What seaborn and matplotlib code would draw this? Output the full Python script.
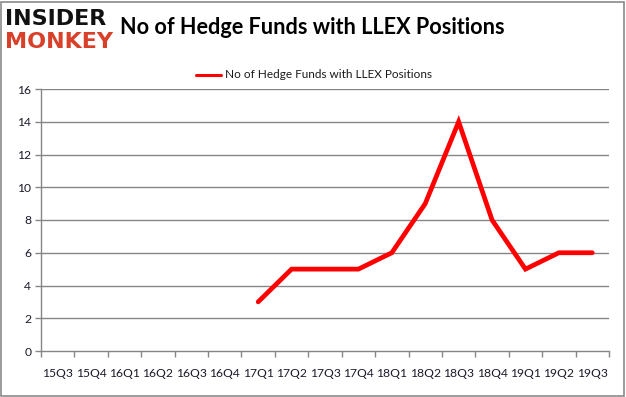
import matplotlib
matplotlib.use("Agg")
import matplotlib.pyplot as plt
import seaborn as sns
import pandas as pd
import numpy as np
from matplotlib.patches import Rectangle
from matplotlib.lines import Line2D

quarters = ["15Q3", "15Q4", "16Q1", "16Q2", "16Q3", "16Q4", "17Q1", "17Q2", "17Q3",
            "17Q4", "18Q1", "18Q2", "18Q3", "18Q4", "19Q1", "19Q2", "19Q3"]
funds = [None, None, None, None, None, None, 3, 5, 5, 5, 6, 9, 14, 8, 5, 6, 6]
series_name = "No of Hedge Funds with LLEX Positions"
yticks = [0, 2, 4, 6, 8, 10, 12, 14, 16]

sns.set_theme(style="white")
plt.rcParams['font.family'] = ['Lato', 'DejaVu Sans']

df = pd.DataFrame({"quarter": quarters, "funds": funds, "idx": np.arange(len(quarters))})
df["funds"] = df["funds"].astype(float)

fig = plt.figure(figsize=(6.26, 3.97), dpi=100)
ax = fig.add_axes([41/626, 1-351/397, (609-41)/626, (351-89)/397])

grid_c = "#868686"
for y in yticks[1:]:
    ax.axhline(y, color=grid_c, lw=1.0, zorder=1)

sns.lineplot(data=df.dropna(), x="idx", y="funds", ax=ax, color="#ff0000", lw=3.4,
             legend=False, zorder=3, solid_capstyle="round", solid_joinstyle="miter")

ax.set_xlim(-0.5, len(quarters) - 0.5)
ax.set_ylim(0, 16)
ax.set_xticks(np.arange(-0.5, len(quarters), 1.0))
ax.set_xticklabels([])
ax.set_xticks(np.arange(len(quarters)), minor=True)
ax.set_xticklabels(quarters, minor=True)
ax.set_yticks(yticks)
ax.set_yticklabels([str(v) for v in yticks])
ax.tick_params(axis="x", which="major", direction="out", length=4, width=1, color=grid_c, bottom=True)
ax.tick_params(axis="x", which="minor", length=0, pad=12, labelsize=8.7, labelcolor="#1a1a2a")
ax.tick_params(axis="y", which="major", direction="out", length=4, width=1, color=grid_c, left=True,
               labelsize=8.7, labelcolor="#1a1a2a", pad=3)
ax.set_xlabel("")
ax.set_ylabel("")
for s in ["top", "right"]:
    ax.spines[s].set_visible(False)
for s in ["left", "bottom"]:
    ax.spines[s].set_color(grid_c)
    ax.spines[s].set_linewidth(1.0)

# Title
fig.text(312/626, 1-27/397, "No of Hedge Funds with LLEX Positions", ha="center", va="center",
         fontsize=15.6, fontweight="bold", color="#000000")

# Legend
fig.add_artist(Line2D([196/626, 221/626], [1-75/397, 1-75/397], color="#ff0000", lw=2.2))
fig.text(225/626, 1-75/397, series_name, ha="left", va="center", fontsize=8.5, color="#1a1a1a")

# Logo
fig.text(5/626, 1-19/397, "INSIDER", ha="left", va="center", fontsize=16, fontweight="heavy",
         color="#111111", family=["DejaVu Sans"])
fig.text(5/626, 1-42/397, "MONKEY", ha="left", va="center", fontsize=16, fontweight="heavy",
         color="#d9402a", family=["DejaVu Sans"])

# Border
fig.add_artist(Rectangle((1/626, 1/397), 623/626, 394/397, transform=fig.transFigure,
                         fill=False, edgecolor="#8a8a8a", lw=1.2))

fig.savefig("out.png", dpi=100)
